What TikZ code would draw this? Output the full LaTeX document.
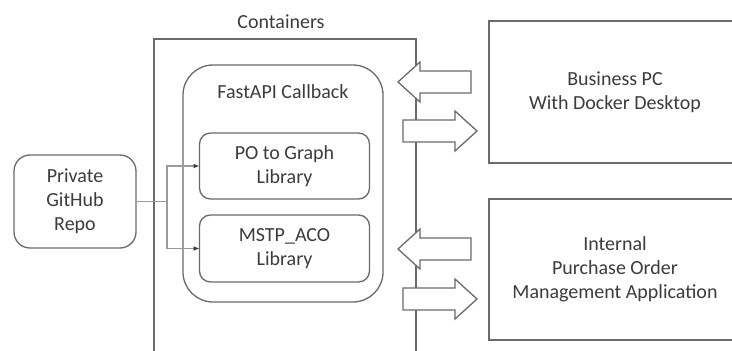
\documentclass[tikz,border=0pt]{standalone}
\usepackage{fontspec}
\setmainfont{Carlito}
\usetikzlibrary{arrows.meta}
\definecolor{edge}{HTML}{6A6A6A}
\definecolor{ink}{HTML}{3C3C3C}
\definecolor{wire}{HTML}{9A9A9A}
\tikzset{
  txt/.style={font=\fontsize{20}{24}\selectfont, text=ink, align=center},
  box/.style={draw=edge, line width=1.3pt, fill=white, inner sep=0pt, outer sep=0pt, txt},
  roundbox/.style={box, rounded corners=#1},
  wireline/.style={draw=wire, line width=1.2pt},
  wirearrow/.style={wireline, -{Latex[length=6pt,width=5pt,color=ink]}},
  blockarrow/.style={draw=edge, line width=1.3pt, fill=white, line join=miter},
  blockleft/.pic={
    \draw[blockarrow] (0,0) -- (22,-20) -- (22,-11) -- (73,-11) -- (73,11)
      -- (22,11) -- (22,20) -- cycle;
  },
  blockright/.pic={
    \draw[blockarrow] (0,-11) -- (52,-11) -- (52,-20) -- (74,0) -- (52,20)
      -- (52,11) -- (0,11) -- cycle;
  },
}
\begin{document}
\begin{tikzpicture}[x=1pt,y=-1pt]
  \useasboundingbox (0,0) rectangle (732,351);
  \clip (0,0) rectangle (732,351);

  % container host, open at the bottom of the view
  \node[box, fill=none, minimum width=262pt, minimum height=330pt] (containers) at (285,204) {};
  \node[txt] (containerslabel) at (281,22) {Containers};

  % callback service and its libraries
  \node[roundbox=30pt, minimum width=200pt, minimum height=237pt] (fastapi) at (283,183.5) {};
  \node[txt] (fastapilabel) at (283,92) {FastAPI Callback};
  \node[roundbox=11pt, minimum width=170pt, minimum height=66pt] (po) at (284.5,166) {PO to Graph\\Library};
  \node[roundbox=11pt, minimum width=170pt, minimum height=67pt] (mstp) at (284.5,248.5) {MSTP\_ACO\\Library};

  % source repository
  \node[roundbox=16pt, minimum width=122pt, minimum height=93pt] (repo) at (75,201.5) {Private\\GitHub\\Repo};

  % external systems, running past the right side
  \node[box, minimum width=252pt, minimum height=142pt] (business) at (615,92) {Business PC\\With Docker Desktop};
  \node[box, minimum width=252pt, minimum height=141pt] (internal) at (615,269.5) {Internal\\Purchase Order\\Management Application};

  % deployment links from the repository
  \draw[wireline] (repo.east) -- ++(31,0) coordinate (split);
  \draw[wirearrow] (split) |- (po.west);
  \draw[wirearrow] (split) |- (mstp.west);

  % traffic between containers and external systems
  \pic at (398,82) {blockleft};
  \pic at (403,131) {blockright};
  \pic at (398,249) {blockleft};
  \pic at (403,299) {blockright};
\end{tikzpicture}
\end{document}
